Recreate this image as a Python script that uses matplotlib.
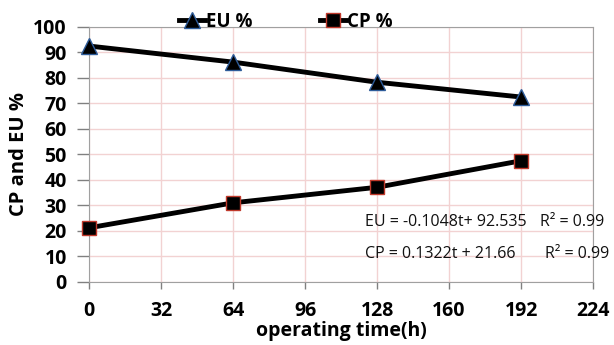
import numpy as np
import matplotlib
matplotlib.use("Agg")
import matplotlib.pyplot as plt

# data
hours = [0, 64, 128, 192]
eu = [92.5, 86.2, 78.3, 72.5]
cp = [21.2, 31.0, 37.1, 47.5]
xticks = [0, 32, 64, 96, 128, 160, 192, 224]
yticks = list(range(0, 101, 10))

plt.rcParams["font.family"] = ["Open Sans", "DejaVu Sans"]

fig = plt.figure(figsize=(6.14, 3.45), dpi=100)
ax = fig.add_axes([0.145, 0.183, 0.821, 0.739])

ax.plot(hours, eu, color="black", lw=3.5, marker="^", ms=11, mfc="black",
        mec="#2e5c9a", mew=1, label="EU %", zorder=3, clip_on=False)
ax.plot(hours, cp, color="black", lw=3.5, marker="s", ms=10, mfc="black",
        mec="#c0392b", mew=1, label="CP %", zorder=3, clip_on=False)

ax.set_xlim(0, 224); ax.set_ylim(0, 100)
ax.set_xticks(xticks); ax.set_yticks(yticks)
ax.grid(True, color="#f2d2d2", lw=1, zorder=0)
for s in ax.spines.values():
    s.set_color("#a0a0a0")
ax.tick_params(colors="#808080", width=1, labelcolor="black", labelsize=14)
ax.tick_params(axis="x", length=5, pad=9)
ax.tick_params(axis="y", length=9, pad=7)
for lab in ax.get_xticklabels() + ax.get_yticklabels():
    lab.set_fontweight("bold")

ax.set_xlabel("operating time(h)", fontsize=14, fontweight="bold", labelpad=0)
ax.set_ylabel("CP and EU %", fontsize=14.5, fontweight="bold", labelpad=3)

# white patch behind the regression equations
ax.add_patch(plt.Rectangle((0.528, 0.067), 0.5, 0.227, transform=ax.transAxes,
                           fc="white", ec="none", zorder=1, clip_on=False))
eq_style = dict(transform=ax.transAxes, fontsize=11.5, va="center", zorder=4,
                color="#111111")
ax.text(0.548, 0.235, "EU = -0.1048t+ 92.535", **eq_style)
ax.text(0.895, 0.235, "R² = 0.99", **eq_style)
ax.text(0.548, 0.11, "CP = 0.1322t + 21.66", **eq_style)
ax.text(0.905, 0.11, "R² = 0.99", **eq_style)

ax.legend(loc="center", bbox_to_anchor=(0.39, 1.02), ncol=2, frameon=False,
          handlelength=1.4, columnspacing=3.6, handletextpad=0.05,
          prop=dict(size=13.5, weight="bold"))

fig.savefig("out.png", dpi=100)
